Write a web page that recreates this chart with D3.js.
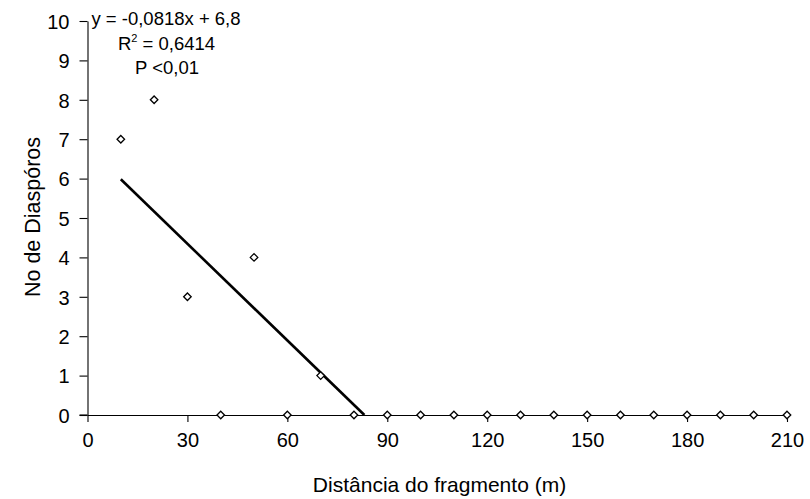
<!DOCTYPE html>
<html><head><meta charset="utf-8">
<script src="https://cdn.jsdelivr.net/npm/d3@7"></script>
<style>body{margin:0;background:#fff}svg{display:block}text{font-family:"Liberation Sans",Arial,sans-serif;fill:#000}</style>
</head><body>
<script>
const distances = [10,20,30,40,50,60,70,80,90,100,110,120,130,140,150,160,170,180,190,200,210];
const diasporos = [7,8,3,0,4,0,1,0,0,0,0,0,0,0,0,0,0,0,0,0,0];
const xTicks = [0,30,60,90,120,150,180,210];
const yTicks = [0,1,2,3,4,5,6,7,8,9,10];
const slope = -0.0818, intercept = 6.8;
const eqLines = ["y = -0,0818x + 6,8", "R2 = 0,6414", "P <0,01"];

const W=810,H=499;
const svg=d3.select("body").append("svg").attr("width",W).attr("height",H);
const x=d3.scaleLinear().domain([0,210]).range([87.5,787]);
const y=d3.scaleLinear().domain([0,10]).range([415,21]);

// y axis
const ya=svg.append("g").attr("transform",`translate(${x(0)},0)`)
  .call(d3.axisLeft(y).tickValues(yTicks).tickSize(8).tickPadding(10).tickSizeOuter(0));
// x axis
const xa=svg.append("g").attr("transform",`translate(0,${y(0)})`)
  .call(d3.axisBottom(x).tickValues(xTicks).tickSize(7).tickPadding(11).tickSizeOuter(0));
[ya,xa].forEach(g=>{g.select(".domain").attr("stroke","#000").attr("stroke-width",1.1);
  g.selectAll(".tick line").attr("stroke","#000").attr("stroke-width",1.1);
  g.selectAll(".tick text").attr("font-size",20).attr("font-family","'Liberation Sans',Arial,sans-serif").attr("fill","#000");});
ya.selectAll(".tick text").attr("dy","0.36em");
// extend x domain line left to y tick end
svg.append("line").attr("x1",x(0)-8).attr("x2",x(0)).attr("y1",y(0)).attr("y2",y(0)).attr("stroke","#000").attr("stroke-width",1.1);

// trend line
const xEnd=-intercept/slope;
svg.append("line").attr("x1",x(10)).attr("y1",y(slope*10+intercept))
  .attr("x2",x(xEnd)).attr("y2",y(0)).attr("stroke","#000").attr("stroke-width",2.6);

// points
const sym=d3.symbol().type(d3.symbolDiamond2).size(36);
svg.append("g").selectAll("path").data(distances.map((d,i)=>[d,diasporos[i]])).join("path")
  .attr("d",sym).attr("transform",d=>`translate(${x(d[0])},${y(d[1])})`)
  .attr("fill","#fff").attr("stroke","#000").attr("stroke-width",1.3);

// equation text
const eq=svg.append("g").attr("font-size",18.5);
eq.append("text").attr("x",166).attr("y",25).attr("text-anchor","middle").text(eqLines[0]);
const r=eq.append("text").attr("x",166.5).attr("y",50).attr("text-anchor","middle");
r.append("tspan").text("R");
r.append("tspan").attr("font-size",11).attr("dy",-8).text("2");
r.append("tspan").attr("dy",8).text(" = 0,6414");
eq.append("text").attr("x",167).attr("y",74).attr("text-anchor","middle").text(eqLines[2]);

// axis titles
svg.append("text").attr("x",439.5).attr("y",492).attr("text-anchor","middle").attr("font-size",21).text("Distância do fragmento (m)");
svg.append("text").attr("transform","translate(40,217) rotate(-90)").attr("text-anchor","middle").attr("font-size",21.5).text("No de Diaspóros");
</script>
</body></html>
